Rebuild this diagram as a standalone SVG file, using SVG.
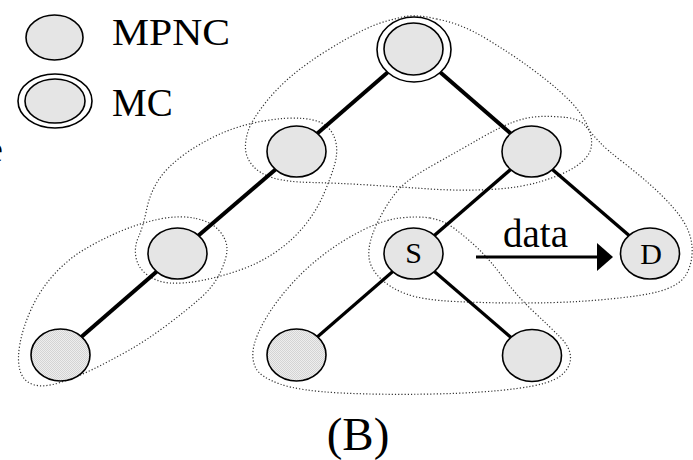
<svg xmlns="http://www.w3.org/2000/svg" width="693" height="460" viewBox="0 0 693 460">
<style>
.hull{fill:none;stroke:#333;stroke-width:1.2;stroke-dasharray:1.2 2}
.edge{stroke:#000;stroke-linecap:butt}
.node{fill:#e5e5e5;stroke:#000;stroke-width:1.6}
.shaded{fill:url(#dither);stroke:#000;stroke-width:1.6}
.ring{fill:#fff;stroke:#000;stroke-width:1.6}
text{font-family:'Liberation Serif','Times New Roman','DejaVu Serif',serif;fill:#000}
</style>
<defs>
<pattern id="dither" width="2" height="2" patternUnits="userSpaceOnUse">
<rect width="2" height="2" fill="#eeeeee"/>
<rect width="1" height="1" fill="#d4d4d4"/>
<rect x="1" y="1" width="1" height="1" fill="#d4d4d4"/>
</pattern>
<marker id="arrow" markerUnits="userSpaceOnUse" markerWidth="16" markerHeight="28" refX="16" refY="14" orient="auto">
<path d="M0,0 L16,14 L0,28 Z" fill="#000"/>
</marker>
</defs>

<g id="legend">
<ellipse class="node" cx="54.5" cy="37.5" rx="28.5" ry="22.5"/>
<text x="112" y="45" font-family="Liberation Serif, serif" font-size="38" textLength="118" lengthAdjust="spacingAndGlyphs">MPNC</text>
<ellipse class="ring" cx="55" cy="101" rx="37" ry="27"/>
<ellipse class="node" cx="55" cy="101" rx="30" ry="22"/>
<text x="112" y="116" font-family="Liberation Serif, serif" font-size="39">MC</text>
<text x="-14" y="162" font-family="Liberation Serif, serif" font-size="38">e</text>
</g>

<g id="clusters">
<path class="hull" d="M436.5,19 Q460,23 485,38 Q510,53 528.5,66.5 Q547,80 560,91.5 Q573,103 580,113 Q587,123 590,132.5 Q593,142 590.5,150 Q588,158 576.5,166 Q565,174 542.5,181 Q520,188 490,189.5 Q460,191 430,189 Q400,187 368.5,185 Q337,183 312,182.5 Q287,182 273.5,178 Q260,174 253,166 Q246,158 245.5,149 Q245,140 248.5,130 Q252,120 264.5,104 Q277,88 292,75.5 Q307,63 327,50.5 Q347,38 363.5,30 Q380,22 396.5,18.5 Q413,13 436.5,19 Z"/>
<path class="hull" d="M146.5,210 Q150,193 158.5,180 Q167,167 183.5,155 Q200,143 220,134 Q240,125 263.5,121 Q287,117 303.5,118.5 Q320,120 327,126.5 Q334,133 336,143 Q338,153 334.5,165 Q331,177 324,193.5 Q317,210 305,225 Q293,240 276.5,251.5 Q260,263 240,270 Q220,277 201.5,280.5 Q183,284 170,283 Q157,282 147.5,275 Q138,268 136,257.5 Q134,247 138.5,237 Q143,227 146.5,210 Z"/>
<path class="hull" d="M196,218.5 Q212,222 219.5,231 Q227,240 227,249 Q227,258 220.5,272 Q214,286 200.5,298 Q187,310 167,325 Q147,340 128.5,350.5 Q110,361 93.5,369 Q77,377 60,382.5 Q43,388 33,384.5 Q23,381 20,370.5 Q17,360 20,343.5 Q23,327 31.5,308.5 Q40,290 53.5,275 Q67,260 83.5,250 Q100,240 120,231.5 Q140,223 160,219 Q180,215 196,218.5 Z"/>
<path class="hull" d="M566.5,117.5 Q580,119 585.5,126 Q591,133 599,141.5 Q607,150 622,161.5 Q637,173 650,184.5 Q663,196 673.5,208 Q684,220 688.5,231.5 Q693,243 692,255 Q691,267 685.5,275.5 Q680,284 666.5,289 Q653,294 628,297 Q603,300 578,301.5 Q553,303 520,303 Q487,303 455,301.5 Q423,300 406.5,294 Q390,288 380,278 Q370,268 369,257.5 Q368,247 372.5,234.5 Q377,222 385,208.5 Q393,195 401.5,186.5 Q410,178 435,164 Q460,150 480,138.5 Q500,127 513.5,122 Q527,117 540,116.5 Q553,116 566.5,117.5 Z"/>
<path class="hull" d="M430,218 Q443,220 455,229 Q467,238 478.5,249 Q490,260 503.5,278 Q517,296 533.5,311.5 Q550,327 560,337 Q570,347 570.5,357 Q571,367 561,375.5 Q551,384 517,388.5 Q483,393 433,394 Q383,395 341.5,393 Q300,391 280,384 Q260,377 255.5,367.5 Q251,358 254,345.5 Q257,333 267,316.5 Q277,300 292,283.5 Q307,267 325,253.5 Q343,240 363,230 Q383,220 400,218 Q417,216 430,218 Z"/>
</g>

<g id="connectors">
<line class="edge" x1="414" y1="49.5" x2="296.5" y2="151.5" stroke-width="4"/>
<line class="edge" x1="414" y1="49.5" x2="531.5" y2="151.5" stroke-width="4"/>
<line class="edge" x1="296.5" y1="151.5" x2="177.5" y2="253.5" stroke-width="4"/>
<line class="edge" x1="177.5" y1="253.5" x2="60.5" y2="355" stroke-width="4"/>
<line class="edge" x1="531.5" y1="151.5" x2="413.5" y2="253.5" stroke-width="3.4"/>
<line class="edge" x1="531.5" y1="151.5" x2="650" y2="253.5" stroke-width="3.4"/>
<line class="edge" x1="413.5" y1="253.5" x2="296.5" y2="355" stroke-width="3.2"/>
<line class="edge" x1="413.5" y1="253.5" x2="532" y2="355.5" stroke-width="3.2"/>
<line x1="476" y1="257" x2="600" y2="257" stroke="#000" stroke-width="3"/>
<path d="M597,243 L613,257 L597,271 Z" fill="#000"/>
<text x="503" y="247" font-family="Liberation Serif, serif" font-size="39">data</text>
</g>

<g id="root">
<ellipse class="ring" cx="414" cy="49.5" rx="37" ry="32.5"/>
<ellipse class="node" cx="413.5" cy="49" rx="29.5" ry="26"/>
</g>
<g id="n-left1"><ellipse class="node" cx="296.5" cy="151.5" rx="29.5" ry="25.5"/></g>
<g id="n-right1"><ellipse class="node" cx="531.5" cy="151.5" rx="29.5" ry="25.5"/></g>
<g id="n-left2"><ellipse class="node" cx="177.5" cy="253.5" rx="29.5" ry="25.5"/></g>
<g id="n-S"><ellipse class="node" cx="413.5" cy="253.5" rx="29.5" ry="25.5"/><text x="413.5" y="263" font-family="Liberation Serif, serif" font-size="30" text-anchor="middle">S</text></g>
<g id="n-D"><ellipse class="node" cx="650" cy="253.5" rx="29.5" ry="25.5"/><text x="651" y="264" font-family="Liberation Serif, serif" font-size="30" text-anchor="middle">D</text></g>
<g id="n-leaf1"><ellipse class="shaded" cx="60.5" cy="355" rx="29.5" ry="26"/></g>
<g id="n-leaf2"><ellipse class="shaded" cx="296.5" cy="355" rx="29.5" ry="26"/></g>
<g id="n-leaf3"><ellipse class="node" cx="532" cy="355.5" rx="29.5" ry="26"/></g>

<g id="caption"><text x="358" y="450" font-family="Liberation Serif, serif" font-size="47" text-anchor="middle">(B)</text></g>
</svg>
